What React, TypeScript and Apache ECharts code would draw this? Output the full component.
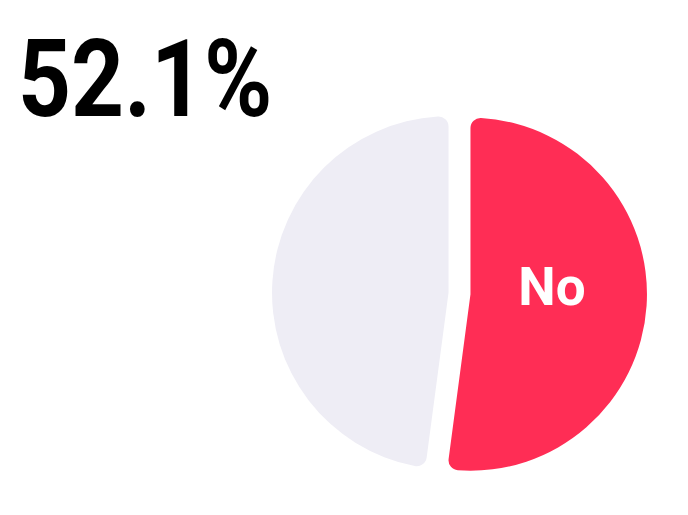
import React, { useEffect, useRef } from "react";
import * as echarts from "echarts";

const categories = ["No", "Yes"];
const values = [52.1, 47.9];
const colors = ["#FF2D55", "#EEEDF5"];
const showLabel = [true, false];

export default function App() {
  const ref = useRef<HTMLDivElement>(null);
  useEffect(() => {
    document.body.style.margin = "0";
    const chart = echarts.init(ref.current!, null, { renderer: "svg" });
    const total = values.reduce((a, b) => a + b, 0);
    const headline = ((values[0] / total) * 100).toFixed(1) + "%";
    chart.setOption({
      animation: false,
      graphic: [
        {
          type: "text",
          x: 18,
          y: 25.5,
          scaleX: 0.865,
          scaleY: 1,
          silent: true,
          style: {
            text: headline,
            fontFamily: "Roboto",
            fontWeight: "bold",
            fontSize: 107,
            fill: "#000000",
            align: "left",
            verticalAlign: "top",
          },
        },
      ],
      series: [
        {
          type: "pie",
          center: [459.5, 293.5],
          radius: [0, 176.5],
          startAngle: 90,
          clockwise: true,
          selectedMode: "multiple",
          selectedOffset: 11,
          silent: true,
          itemStyle: { borderRadius: 10 },
          label: {
            position: "inside",
            formatter: "{b}",
            color: "#FFFFFF",
            fontFamily: "Roboto",
            fontWeight: "bold",
            fontSize: 53,
          },
          labelLayout: { dx: -9.5, dy: -13 },
          labelLine: { show: false },
          emphasis: { disabled: true },
          data: categories.map((name, i) => ({
            name,
            value: values[i],
            selected: true,
            itemStyle: { color: colors[i] },
            select: { itemStyle: { color: colors[i], borderWidth: 0 } },
            label: { show: showLabel[i] },
          })),
        },
      ],
    });
    return () => chart.dispose();
  }, []);
  return <div ref={ref} style={{ width: 688, height: 515 }} />;
}
